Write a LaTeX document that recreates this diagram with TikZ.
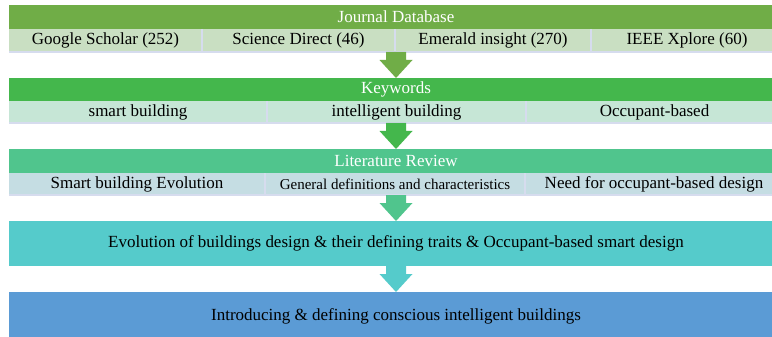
\documentclass[tikz,border=0pt]{standalone}
\usepackage{fontspec}
\setmainfont{Liberation Serif}
\usetikzlibrary{calc}
\definecolor{hA}{HTML}{70AD47}
\definecolor{rA}{HTML}{C9DFC2}
\definecolor{hB}{HTML}{44B74C}
\definecolor{rB}{HTML}{C6E6D6}
\definecolor{hC}{HTML}{50C58D}
\definecolor{rC}{HTML}{C5DDE3}
\definecolor{bD}{HTML}{55CBCB}
\definecolor{bE}{HTML}{5B9BD5}
\definecolor{sepc}{HTML}{D6DCEE}
\newcommand{\flowarr}[3]{%
  \fill[#3] ($(#1.south)+(-10,0)$) -- ($(#2.north)+(-10,18)$) -- ($(#2.north)+(-16.5,18)$)
    -- (#2.north) -- ($(#2.north)+(16.5,18)$) -- ($(#2.north)+(10,18)$)
    -- ($(#1.south)+(10,0)$) -- cycle;}
\begin{document}
\begin{tikzpicture}[x=1pt,y=1pt,
  box/.style={anchor=north west, inner sep=0pt, outer sep=0pt, minimum width=774pt},
  hdr/.style={box, text=white, font=\fontsize{17}{19}\selectfont},
  cell/.style={anchor=north west, inner sep=0pt, outer sep=0pt, text=black, font=\fontsize{17}{19}\selectfont},
  big/.style={box, text=black, font=\fontsize{17}{19}\selectfont},
  sepline/.style={draw=sepc, line width=1.2pt}]
\clip (0,0) rectangle (772,-337);
\fill[white] (0,0) rectangle (772,-337);
% Journal database
\node[hdr, fill=hA, minimum height=24pt] (h1) at (9,-5) {Journal Database};
\node[box, fill=rA, minimum height=23pt] (r1) at (9,-29) {};
\node[cell, minimum width=193pt, minimum height=23pt] (c11) at (9,-29) {Google Scholar (252)};
\node[cell, minimum width=193pt, minimum height=23pt] (c12) at (202,-29) {Science Direct (46)};
\node[cell, minimum width=196pt, minimum height=23pt] (c13) at (395,-29) {Emerald insight (270)};
\node[cell, minimum width=192pt, minimum height=23pt] (c14) at (591,-29) {IEEE Xplore (60)};
\draw[sepline] (c11.north east) -- (c11.south east);
\draw[sepline] (c12.north east) -- (c12.south east);
\draw[sepline] (c13.north east) -- (c13.south east);
\draw[sepline] (r1.south west) -- (r1.south east);
% Keywords
\node[hdr, fill=hB, minimum height=23pt] (h2) at (9,-78) {Keywords};
\node[box, fill=rB, minimum height=22pt] (r2) at (9,-101) {};
\node[cell, minimum width=258pt, minimum height=22pt] (c21) at (9,-101) {smart building};
\node[cell, minimum width=259pt, minimum height=22pt] (c22) at (267,-101) {intelligent building};
\node[cell, minimum width=257pt, minimum height=22pt] (c23) at (526,-101) {Occupant-based};
\draw[sepline] (c21.north east) -- (c21.south east);
\draw[sepline] (c22.north east) -- (c22.south east);
\draw[sepline] (r2.south west) -- (r2.south east);
% Literature review
\node[hdr, fill=hC, minimum height=24pt] (h3) at (9,-149) {Literature Review};
\node[box, fill=rC, minimum height=22pt] (r3) at (9,-173) {};
\node[cell, minimum width=256pt, minimum height=22pt] (c31) at (9,-173) {Smart building Evolution};
\node[cell, minimum width=260pt, minimum height=22pt, font=\fontsize{15}{17}\selectfont] (c32) at (265,-173) {General definitions and characteristics};
\node[cell, minimum width=258pt, minimum height=22pt] (c33) at (525,-173) {Need for occupant-based design};
\draw[sepline] (c31.north east) -- (c31.south east);
\draw[sepline] (c32.north east) -- (c32.south east);
\draw[sepline] (r3.south west) -- (r3.south east);
% Big boxes
\node[big, fill=bD, minimum height=45pt] (b4) at (9,-221) {Evolution of buildings design \& their defining traits \& Occupant-based smart design};
\node[big, fill=bE, minimum height=48pt] (b5) at (9,-292) {Introducing \& defining conscious intelligent buildings};
% Arrows
\flowarr{r1}{h2}{hA}
\flowarr{r2}{h3}{hB}
\flowarr{r3}{b4}{hC}
\flowarr{b4}{b5}{bD}
\end{tikzpicture}
\end{document}
